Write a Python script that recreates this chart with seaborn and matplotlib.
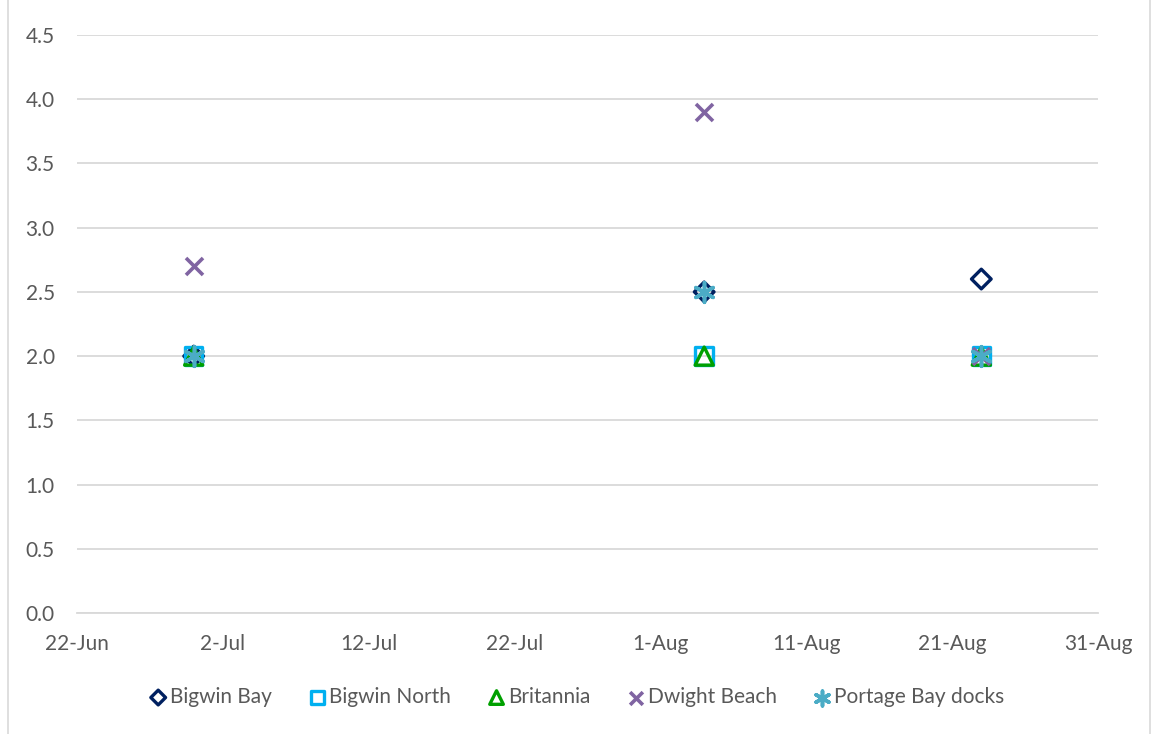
import pandas as pd
import matplotlib
matplotlib.use("Agg")
import matplotlib.pyplot as plt
import matplotlib.dates as mdates
import seaborn as sns

# --- DATA ---
SAMPLE_DATES = pd.to_datetime(["2019-06-30", "2019-08-04", "2019-08-23"])
BIGWIN_BAY = [2.0, 2.5, 2.6]
BIGWIN_NORTH = [2.0, 2.0, 2.0]
BRITANNIA = [2.0, 2.0, 2.0]
DWIGHT_BEACH = [2.7, 3.9, 2.0]
PORTAGE_BAY_DOCKS = [2.0, 2.5, 2.0]

SERIES = {
    "Bigwin Bay": BIGWIN_BAY,
    "Bigwin North": BIGWIN_NORTH,
    "Britannia": BRITANNIA,
    "Dwight Beach": DWIGHT_BEACH,
    "Portage Bay docks": PORTAGE_BAY_DOCKS,
}

# --- STYLE ---
STYLES = {
    "Bigwin Bay": dict(marker="D", color="#002060", s=100, filled=True),
    "Bigwin North": dict(marker="s", color="#00B0F0", s=160, filled=True),
    "Britannia": dict(marker="^", color="#00A000", s=170, filled=True),
    "Dwight Beach": dict(marker="x", color="#8064A2", s=150, filled=False),
    "Portage Bay docks": dict(marker=(6, 2, 0), color="#4BACC6", s=200, filled=False),
}
TEXT_COLOR = "#595959"
GRID_COLOR = "#D9D9D9"

sns.set_theme(style="white")
plt.rcParams["font.family"] = ["Lato", "DejaVu Sans"]

fig = plt.figure(figsize=(11.52, 7.34), dpi=100)
ax = fig.add_axes([77 / 1152, 1 - 613 / 734, (1098 - 77) / 1152, (613 - 35) / 734])

for name, values in SERIES.items():
    st = STYLES[name]
    df = pd.DataFrame({"date": SAMPLE_DATES, "value": values})
    if st["filled"]:
        sns.scatterplot(data=df, x="date", y="value", ax=ax, marker=st["marker"], s=st["s"],
                        facecolor="none", edgecolor=st["color"], linewidth=2.4, label=name, zorder=3)
    else:
        sns.scatterplot(data=df, x="date", y="value", ax=ax, marker=st["marker"], s=st["s"],
                        color=st["color"], linewidth=2.6, label=name, zorder=3)

# axes
ax.set_ylim(0, 4.5)
ax.set_yticks([i * 0.5 for i in range(10)])
ax.yaxis.set_major_formatter(plt.FuncFormatter(lambda v, _: f"{v:.1f}"))
ax.set_xlim(pd.Timestamp("2019-06-22"), pd.Timestamp("2019-08-31"))
ax.set_xticks(pd.date_range("2019-06-22", "2019-08-31", freq="10D"))
ax.xaxis.set_major_formatter(mdates.DateFormatter("%-d-%b"))
ax.set_xlabel("")
ax.set_ylabel("")
ax.grid(axis="y", color=GRID_COLOR, linewidth=1.3)
ax.grid(axis="x", visible=False)
ax.set_axisbelow(True)
for side in ["top", "right", "left"]:
    ax.spines[side].set_visible(False)
ax.spines["bottom"].set_color(GRID_COLOR)
ax.spines["bottom"].set_linewidth(1.3)
ax.tick_params(axis="both", length=0, labelsize=15, colors=TEXT_COLOR)
ax.tick_params(axis="x", pad=15)
ax.tick_params(axis="y", pad=16)

ax.legend(loc="center", bbox_to_anchor=(0.5, (734 - 697) / 734), bbox_transform=fig.transFigure,
          ncol=5, frameon=False, fontsize=15, labelcolor=TEXT_COLOR, handletextpad=0.05,
          columnspacing=1.7, handlelength=1.0, markerscale=0.75)

# chart-area border
fig.patches.append(plt.Rectangle((8 / 1152, -0.01), (1150 - 8) / 1152, 1.02, transform=fig.transFigure,
                                 fill=False, edgecolor="#D9D9D9", linewidth=1.2))

fig.savefig("out.png", dpi=100)
